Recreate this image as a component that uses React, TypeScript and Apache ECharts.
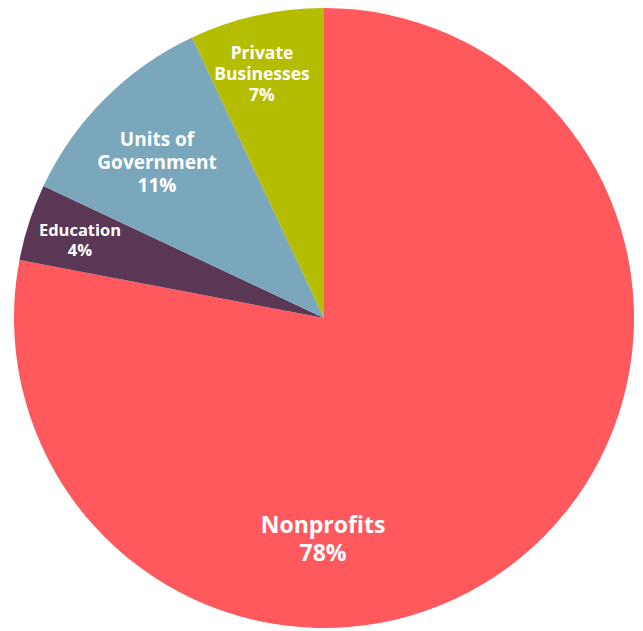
import React, { useEffect, useRef } from "react";
import * as echarts from "echarts";

const categories = ["Nonprofits", "Education", "Units of\nGovernment", "Private\nBusinesses"];
const values = [78, 4, 11, 7];
const colors = ["#FF585D", "#5B3756", "#7BA7BC", "#B5BD00"];
const fontSizes = [23, 16.5, 19, 17.5];
const lineHeights = [28, 20, 23, 21];
const labelPos: [number, number][] = [
  [315, 530],
  [72, 231],
  [149, 154],
  [254, 65],
];

export default function App() {
  const ref = useRef<HTMLDivElement>(null);
  useEffect(() => {
    if (!ref.current) return;
    const chart = echarts.init(ref.current, undefined, { renderer: "svg" });
    chart.setOption({
      animation: false,
      series: [
        {
          type: "pie",
          center: [316, 310],
          radius: 310,
          startAngle: 90,
          clockwise: true,
          silent: true,
          label: {
            show: true,
            position: "inside",
            formatter: "{b}\n{c}%",
            color: "#ffffff",
            fontFamily: "Open Sans",
            fontWeight: "bold",
            align: "center",
            verticalAlign: "middle",
          },
          labelLine: { show: false },
          labelLayout: (p: any) => ({
            x: labelPos[p.dataIndex][0],
            y: labelPos[p.dataIndex][1],
            align: "center",
            verticalAlign: "middle",
          }),
          itemStyle: { borderWidth: 0 },
          data: categories.map((c, i) => ({
            name: c,
            value: values[i],
            itemStyle: { color: colors[i] },
            label: { fontSize: fontSizes[i], lineHeight: lineHeights[i] },
          })),
        },
      ],
    });
    return () => chart.dispose();
  }, []);
  return <div ref={ref} style={{ width: 635, height: 623 }} />;
}
